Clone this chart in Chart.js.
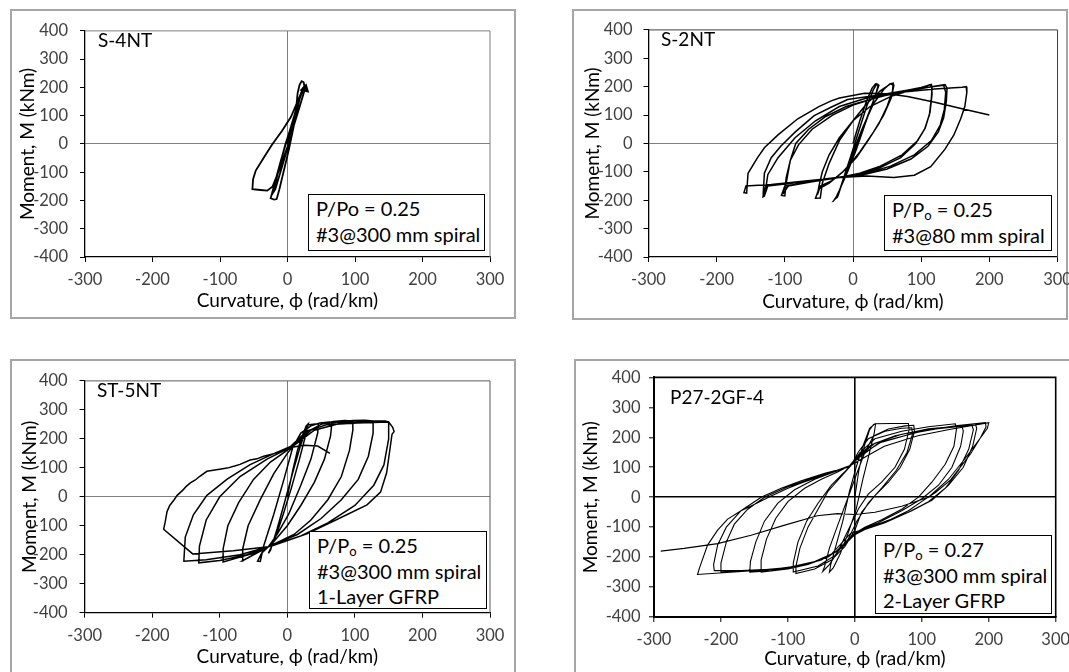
<!DOCTYPE html>
<html>
<head>
<meta charset="utf-8">
<script src="https://cdn.jsdelivr.net/npm/chart.js@4.4.0/dist/chart.umd.min.js"></script>
<style>
  html, body { margin: 0; padding: 0; background: #fff; }
  body { width: 1069px; height: 672px; overflow: hidden; position: relative; font-family: Lato, "Noto Sans", sans-serif; }
  .panel { position: absolute; border: 2px solid #a6a6a6; box-sizing: border-box; }
  canvas { position: absolute; }
  .tag { position: absolute; font-size: 19px; line-height: 1; color: #000; white-space: nowrap; }
  .note { position: absolute; border: 1.5px solid #000; background: #fff; font-size: 20px; line-height: 25.5px;
          padding: 1px 0 0 7px; box-sizing: border-box; white-space: nowrap; color: #000; }
  .note sub { font-size: 13px; vertical-align: -3px; line-height: 0; }
</style>
</head>
<body>
<div class="panel" style="left:10px;top:9px;width:506px;height:310px"></div>
<div class="panel" style="left:572px;top:9px;width:496px;height:311px"></div>
<div class="panel" style="left:10px;top:359px;width:506px;height:340px"></div>
<div class="panel" style="left:574px;top:359px;width:520px;height:340px"></div>

<canvas id="c1" width="506" height="310" style="left:10px;top:9px"></canvas>
<canvas id="c2" width="518" height="311" style="left:572px;top:9px"></canvas>
<canvas id="c3" width="506" height="313" style="left:10px;top:359px"></canvas>
<canvas id="c4" width="516" height="313" style="left:574px;top:359px"></canvas>

<div class="tag" style="left:98px;top:30px">S-4NT</div>
<div class="tag" style="left:661px;top:29px">S-2NT</div>
<div class="tag" style="left:97px;top:380px">ST-5NT</div>
<div class="tag" style="left:670px;top:387px">P27-2GF-4</div>

<div class="note" style="left:308px;top:194px;width:177px;height:57px">P/Po = 0.25<br>#3@300 mm spiral</div>
<div class="note" style="left:884px;top:195px;width:168px;height:56px">P/P<sub>o</sub> = 0.25<br>#3@80 mm spiral</div>
<div class="note" style="left:309px;top:531px;width:178px;height:78px">P/P<sub>o</sub> = 0.25<br>#3@300 mm spiral<br>1-Layer GFRP</div>
<div class="note" style="left:875px;top:535px;width:177px;height:79px">P/P<sub>o</sub> = 0.27<br>#3@300 mm spiral<br>2-Layer GFRP</div>

<script>
// tick values (curvature in rad/km, moment in kNm)
const phiTicks = [-300, -200, -100, 0, 100, 200, 300];
const momentTicks = [-400, -300, -200, -100, 0, 100, 200, 300, 400];

// [curvature, moment]
const s4nt = [[0,0],[7,70],[14,130],[20,175],[22,185],[18,160],[8,80],[-3,0],[-12,-80],[-18,-140],[-22,-175],
  [-18,-160],[-8,-80],[3,10],[12,100],[19,170],[24,200],[20,180],[10,100],[0,20],[-10,-60],[-18,-130],[-23,-175],
  [-25,-192],[-20,-197],[-16,-195],[-12,-160],[-6,-100],[2,-20],[9,60],[13,130],[15,180],[18,210],[21,222],[24,218],
  [25,205],[22,190],[14,145],[5,95],[-8,47],[-23,-3],[-35,-48],[-47,-94],[-51,-125],[-52,-160],[-40,-163],[-30,-165],
  [-22,-150],[-12,-90],[0,-10],[10,70],[19,140],[26,195]];

const s2nt = [[0,0],[10,80],[20,150],[28,195],[33,210],[37,205],[33,170],[22,100],[10,20],[-3,-60],[-14,-130],[-22,-180],
  [-27,-197],[-23,-190],[-15,-130],[-4,-50],[8,40],[20,130],[30,190],[35,210],[38,205],[30,150],[18,70],[5,-20],[-8,-100],
  [-20,-165],[-26,-195],[-22,-185],[-12,-110],[0,-30],[15,60],[30,140],[45,190],[54,210],[59,212],[58,185],[50,130],
  [38,70],[22,10],[5,-50],[-15,-100],[-35,-140],[-50,-160],[-55,-193],[-48,-192],[-45,-140],[-35,-70],[-20,10],[0,80],
  [20,140],[40,185],[55,210],[60,205],[56,160],[45,100],[30,40],[10,-30],[-10,-90],[-30,-130],[-48,-150],[-52,-180],
  [-50,-150],[-45,-100],[-35,-40],[-20,20],[0,80],[25,130],[55,165],[85,188],[105,200],[113,207],[116,200],[115,160],
  [112,100],[105,50],[92,0],[70,-50],[40,-85],[10,-108],[-20,-120],[-55,-132],[-85,-145],[-100,-150],[-105,-183],
  [-100,-185],[-98,-140],[-92,-60],[-84,0],[-65,50],[-40,95],[-10,130],[25,155],[65,180],[100,197],[115,208],[116,175],
  [113,110],[106,55],[95,10],[72,-40],[40,-80],[10,-105],[-20,-120],[-60,-135],[-95,-150],[-103,-178],[-100,-170],
  [-98,-120],[-92,-60],[-80,-5],[-60,50],[-30,100],[0,135],[40,165],[80,185],[115,200],[135,207],[138,195],[137,150],
  [133,90],[125,40],[110,-10],[85,-55],[50,-90],[15,-110],[-20,-120],[-60,-132],[-100,-143],[-125,-150],[-130,-185],
  [-132,-188],[-130,-105],[-120,-50],[-106,-10],[-85,40],[-57,98],[-30,130],[-8,155],[41,172],[90,192],[133,205],
  [136,180],[134,120],[128,65],[115,10],[90,-40],[55,-80],[15,-108],[-30,-122],[-80,-137],[-128,-150],[-132,-182],
  [-128,-160],[-125,-110],[-110,-50],[-85,20],[-55,80],[-20,130],[20,160],[70,180],[120,192],[160,198],[166,200],
  [167,180],[164,130],[158,87],[148,30],[135,-20],[114,-82],[90,-112],[60,-120],[20,-115],[-20,-120],[-70,-132],
  [-120,-145],[-157,-150],[-160,-173],[-156,-175],[-154,-105],[-140,-50],[-130,-15],[-110,30],[-81,87],[-50,130],
  [-32,150],[-20,160],[17,177],[50,175],[80,165],[120,145],[160,122],[200,100]];

const st5nt = [[0,0],[8,90],[15,160],[22,210],[28,245],[31,252],[28,220],[18,130],[6,30],[-6,-60],[-16,-130],[-24,-175],
  [-28,-195],[-25,-185],[-15,-110],[-3,-10],[10,100],[20,180],[30,248],[38,250],[46,252],[45,220],[35,130],[20,40],
  [2,-60],[-15,-130],[-28,-172],[-38,-195],[-44,-222],[-40,-223],[-35,-170],[-20,-60],[-5,60],[8,170],[20,220],[35,245],
  [48,255],[62,258],[66,255],[64,210],[55,130],[40,50],[20,-30],[0,-100],[-22,-160],[-30,-175],[-50,-200],[-67,-222],
  [-66,-180],[-58,-100],[-40,-10],[-20,80],[0,150],[10,178],[30,225],[50,250],[68,260],[85,263],[97,262],[97,230],
  [92,160],[80,70],[60,-10],[35,-80],[10,-130],[-28,-172],[-50,-195],[-80,-215],[-95,-225],[-95,-180],[-88,-100],
  [-72,-20],[-50,60],[-25,120],[9,176],[35,230],[65,255],[97,263],[115,264],[127,262],[127,220],[120,140],[105,60],
  [80,-10],[50,-75],[15,-130],[-28,-172],[-60,-200],[-100,-220],[-131,-228],[-130,-170],[-120,-80],[-100,0],[-70,70],
  [-30,130],[9,176],[40,230],[80,255],[127,262],[145,262],[150,258],[150,200],[143,110],[128,40],[100,-30],[60,-90],
  [20,-135],[-28,-172],[-70,-200],[-120,-217],[-153,-222],[-153,-217],[-151,-139],[-139,-62],[-119,5],[-89,61],
  [-55,111],[-20,149],[5,174],[29,227],[59,249],[103,255],[150,258],[156,240],[158,225],[155,216],[147,83],[138,16],
  [118,-28],[78,-73],[29,-128],[-20,-167],[-28,-172],[-80,-186],[-140,-197],[-183,-112],[-181,-90],[-178,-51],
  [-174,-30],[-168,-12],[-163,5],[-155,22],[-150,35],[-143,49],[-136,58],[-130,70],[-119,88],[-105,93],[-100,95],
  [-89,99],[-78,106],[-70,112],[-55,127],[-45,131],[-35,140],[-20,149],[-5,160],[9,172],[25,178],[45,175],[63,150]];

const p27 = [[0,0],[6,90],[14,170],[22,225],[28,243],[31,245],[29,215],[22,150],[12,60],[2,-40],[-10,-120],[-22,-190],
  [-32,-235],[-38,-250],[-36,-225],[-28,-160],[-18,-80],[-8,20],[2,100],[12,170],[22,230],[30,245],[55,246],[80,246],
  [81,225],[74,160],[60,100],[40,50],[20,10],[5,-40],[-10,-110],[-25,-180],[-38,-225],[-48,-248],[-45,-230],[-38,-170],
  [-25,-90],[-10,0],[3,80],[15,150],[28,205],[50,228],[75,238],[88,240],[89,220],[82,160],[68,100],[50,50],[30,5],
  [10,-50],[0,-110],[-15,-165],[-35,-210],[-60,-240],[-88,-255],[-88,-230],[-82,-170],[-70,-100],[-55,-40],[-40,20],
  [-20,70],[-6,105],[5,150],[20,195],[45,220],[70,230],[85,232],[86,210],[78,150],[62,90],[40,30],[20,-20],[3,-80],
  [-10,-140],[-30,-195],[-55,-230],[-92,-250],[-92,-220],[-85,-150],[-72,-80],[-55,-20],[-35,40],[-15,85],[-5,110],
  [8,150],[30,195],[70,220],[110,235],[150,245],[152,230],[148,170],[135,110],[115,50],[95,0],[70,-40],[40,-75],
  [15,-100],[0,-120],[-15,-160],[-40,-200],[-70,-225],[-100,-240],[-140,-250],[-140,-210],[-132,-140],[-118,-70],
  [-100,-15],[-75,30],[-50,60],[-25,85],[-8,105],[5,140],[25,175],[60,205],[110,228],[160,238],[162,220],[158,170],
  [145,100],[125,40],[100,-5],[70,-45],[35,-85],[10,-108],[0,-122],[-20,-170],[-50,-210],[-90,-235],[-125,-245],
  [-157,-250],[-156,-215],[-148,-150],[-135,-80],[-115,-20],[-90,25],[-60,60],[-30,85],[-8,102],[5,135],[30,180],
  [70,210],[120,228],[175,240],[177,225],[170,160],[155,90],[135,30],[110,-15],[80,-50],[45,-85],[15,-108],[0,-125],
  [-25,-180],[-60,-215],[-100,-235],[-150,-245],[-200,-250],[-200,-220],[-192,-150],[-180,-90],[-160,-40],[-135,0],
  [-100,35],[-65,62],[-35,85],[-10,100],[5,130],[35,180],[90,215],[140,235],[180,245],[182,230],[176,170],[162,100],
  [140,40],[115,-10],[85,-45],[50,-80],[18,-105],[0,-120],[-30,-185],[-70,-225],[-120,-240],[-170,-245],[-210,-245],
  [-211,-225],[-205,-160],[-192,-100],[-170,-45],[-140,0],[-110,30],[-80,55],[-45,80],[-10,100],[5,135],[40,185],
  [100,220],[150,238],[195,249],[196,235],[188,200],[173,145],[143,58],[120,15],[104,-8],[80,-45],[54,-74],[14,-107],
  [-6,-120],[-35,-190],[-70,-225],[-120,-240],[-180,-250],[-235,-258],[-232,-236],[-220,-160],[-205,-110],[-190,-73],
  [-170,-45],[-155,-29],[-125,4],[-100,30],[-81,47],[-46,74],[-6,107],[20,140],[44,170],[94,205],[143,227],[200,249],
  [198,230],[185,190],[165,130],[140,60],[110,0],[70,-30],[30,-50],[0,-58],[-26,-55],[-56,-62],[-106,-94],[-155,-127],
  [-205,-155],[-255,-171],[-290,-180]];

Chart.defaults.font.family = 'Lato, "Noto Sans", sans-serif';

// top and right edge of the plot area
const framePlugin = {
  id: 'frame',
  beforeDatasetsDraw(chart, args, opts) {
    const a = chart.chartArea, c = chart.ctx;
    c.save();
    c.strokeStyle = opts.color;
    c.lineWidth = opts.width;
    c.beginPath();
    c.moveTo(a.left, a.top);
    c.lineTo(a.right, a.top);
    c.lineTo(a.right, a.bottom);
    c.stroke();
    c.restore();
  }
};

function makeChart(id, points, g) {
  const last = points.length - 1;
  new Chart(document.getElementById(id), {
    type: 'scatter',
    data: {
      datasets: [{
        data: points.map(p => ({ x: p[0], y: p[1] })),
        showLine: true,
        borderColor: '#000',
        backgroundColor: '#000',
        borderWidth: g.lw,
        tension: 0,
        pointRadius: ctx => (g.arrow && ctx.dataIndex === last) ? 4 : 0,
        pointStyle: 'triangle',
        rotation: 14
      }]
    },
    options: {
      responsive: false,
      animation: false,
      layout: { padding: { top: g.padT, right: g.padR, left: 0, bottom: 0 } },
      plugins: {
        legend: { display: false },
        tooltip: { enabled: false },
        frame: { color: g.frame, width: g.frameW }
      },
      scales: {
        x: {
          type: 'linear', min: -300, max: 300,
          afterBuildTicks: s => { s.ticks = phiTicks.map(v => ({ value: v })); },
          afterFit: s => { s.height = g.xH; },
          ticks: { padding: g.xTickPad, color: '#404040', font: { size: 16.5 }, callback: v => String(v) },
          grid: {
            color: c => (c.tick && c.tick.value === 0) ? g.zero : 'rgba(0,0,0,0)',
            lineWidth: g.zeroW, tickColor: '#000', tickLength: 5, tickWidth: 1
          },
          border: { color: '#000', width: g.axisW },
          title: { display: true, text: 'Curvature, ϕ (rad/km)', color: '#000', font: { size: 19 },
                   padding: { top: g.xtPad, bottom: g.xtPad } }
        },
        y: {
          type: 'linear', min: -400, max: 400,
          afterBuildTicks: s => { s.ticks = momentTicks.map(v => ({ value: v })); },
          afterFit: s => { s.width = g.yW; },
          ticks: { padding: g.yTickPad, color: '#404040', font: { size: 16.5 }, callback: v => String(v) },
          grid: {
            color: c => (c.tick && c.tick.value === 0) ? g.zero : 'rgba(0,0,0,0)',
            lineWidth: g.zeroW, tickColor: '#000', tickLength: 5, tickWidth: 1
          },
          border: { color: '#000', width: g.axisW },
          title: { display: true, text: 'Moment, M (kNm)', color: '#000', font: { size: 19 },
                   padding: { top: g.ytPad, bottom: g.ytPad } }
        }
      }
    },
    plugins: [framePlugin]
  });
}

makeChart('c1', s4nt, { yW: 75, xH: 62, padT: 12, padR: 26, ytPad: 6.5, xtPad: 6.5, yTickPad: 12, xTickPad: 8,
  frame: '#7f7f7f', frameW: 1, lw: 1.8, zero: '#7f7f7f', zeroW: 1, axisW: 1.3, arrow: true });
makeChart('c2', s2nt, { yW: 76.5, xH: 63, padT: 12, padR: 32.5, ytPad: 9.5, xtPad: 6.5, yTickPad: 11, xTickPad: 8,
  frame: '#404040', frameW: 1, lw: 1.5, zero: '#7f7f7f', zeroW: 1, axisW: 1.3 });
makeChart('c3', st5nt, { yW: 74.6, xH: 59.3, padT: 13, padR: 26, ytPad: 8.5, xtPad: 3.5, yTickPad: 12, xTickPad: 8,
  frame: '#595959', frameW: 1, lw: 1.5, zero: '#7f7f7f', zeroW: 1, axisW: 1.3 });
makeChart('c4', p27, { yW: 80, xH: 55, padT: 13, padR: 34.3, ytPad: 5.5, xtPad: 1.5, yTickPad: 8.5, xTickPad: 8,
  frame: '#000', frameW: 1.6, lw: 1.1, zero: '#000', zeroW: 1.6, axisW: 2 });
</script>
</body>
</html>
